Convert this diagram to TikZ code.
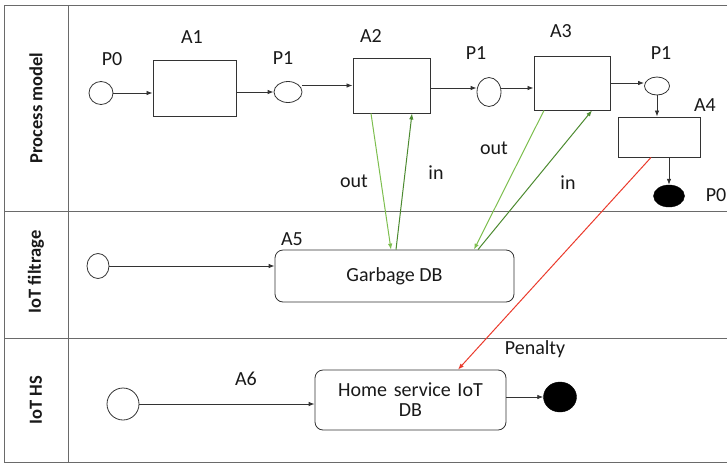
\documentclass[tikz,border=0pt]{standalone}
\usepackage{fontspec}
\setmainfont{Carlito}
\usetikzlibrary{arrows.meta,shapes.geometric}
\definecolor{ln}{HTML}{333333}
\definecolor{fr}{HTML}{6A6A6A}
\definecolor{lgreen}{HTML}{7DBE4E}
\definecolor{dgreen}{HTML}{4C8A30}
\definecolor{pred}{HTML}{EA3A2C}
\begin{document}
\begin{tikzpicture}[x=1pt,y=-1pt,
  every node/.style={font=\fontsize{20}{22}\selectfont, text=black!90},
  lbl/.style={inner sep=0pt},
  lane/.style={font=\fontsize{18.5}{20}\selectfont\bfseries, rotate=90, inner sep=0pt},
  act/.style={draw=ln, line width=0.9pt, inner sep=0pt},
  place/.style={ellipse, draw=ln, line width=0.8pt, inner sep=0pt},
  endp/.style={ellipse, draw=black, fill=black, inner sep=0pt},
  db/.style={draw=ln, line width=0.8pt, rounded corners=8pt, inner sep=0pt, align=center},
  flow/.style={draw=ln, line width=0.8pt, -{Latex[length=6pt,width=4.5pt]}},
  gout/.style={draw=lgreen, line width=1pt, -{Latex[length=6pt,width=4.5pt]}},
  gin/.style={draw=dgreen, line width=1pt, -{Latex[length=6pt,width=4.5pt]}},
  rflow/.style={draw=pred, line width=1pt, -{Latex[length=6pt,width=4.5pt]}},
  frame/.style={draw=fr, line width=1pt}
]
\useasboundingbox (0,0) rectangle (728,464);
% frame
\draw[frame] (727,5) -- (4,5) -- (4,462) -- (727,462);
\draw[frame] (68,5) -- (68,462);
\draw[frame] (4,211) -- (727,211);
\draw[frame] (4,338) -- (727,338);
% lane labels
\node[lane] (L1) at (36,108) {Process model};
\node[lane] (L2) at (36,272) {IoT filtrage};
\node[lane] (L3) at (36,400) {IoT HS};
% process model lane
\node[place, minimum width=24pt, minimum height=23pt] (P0) at (101,93) {};
\node[lbl] (tP0) at (112,59) {P0};
\node[act, minimum width=83pt, minimum height=56pt] (A1) at (194.5,88) {};
\node[lbl] (tA1) at (192,37) {A1};
\node[place, minimum width=28pt, minimum height=21pt] (P1a) at (288,92) {};
\node[lbl] (tP1a) at (283,58) {P1};
\node[act, minimum width=77pt, minimum height=55pt] (A2) at (391.5,85.5) {};
\node[lbl] (tA2) at (371,36) {A2};
\node[place, minimum width=24pt, minimum height=29pt] (P1b) at (489,92) {};
\node[lbl] (tP1b) at (476,53) {P1};
\node[act, minimum width=76pt, minimum height=54pt] (A3) at (572,83) {};
\node[lbl] (tA3) at (561,31) {A3};
\node[place, minimum width=25pt, minimum height=18pt] (P1c) at (657,86) {};
\node[lbl] (tP1c) at (661,53) {P1};
\node[act, minimum width=82pt, minimum height=40pt] (A4) at (659,137) {};
\node[lbl] (tA4) at (705,105) {A4};
\node[endp, minimum width=31pt, minimum height=22pt] (E1) at (669,196) {};
\node[lbl] (tE1) at (716,195) {P0};
% IoT filtrage lane
\node[place, minimum width=22pt, minimum height=25pt] (S2) at (98,266) {};
\node[db, minimum width=239pt, minimum height=52pt] (GDB) at (394.5,276) {Garbage DB};
\node[lbl] (tA5) at (292,239) {A5};
% IoT HS lane
\node[place, minimum width=32pt, minimum height=32pt] (S3) at (123,404) {};
\node[db, minimum width=191pt, minimum height=60pt, text width=185pt] (HS) at (410.5,400) {Home service IoT\\[-2pt]DB};
\node[lbl] (tA6) at (246,379) {A6};
\node[lbl] (tPen) at (535,349) {Penalty};
\node[endp, minimum width=33pt, minimum height=30pt] (E2) at (560,397) {};
% flows
\draw[flow] (P0) -- (P0 -| A1.west);
\draw[flow] (A1.east |- P1a) -- (P1a);
\draw[flow] (P1a.east |- A2) -- (A2.west |- A2);
\draw[flow] (A2.east |- 0,88) -- (P1b.west |- 0,88);
\draw[flow] (P1b.east |- 0,88) -- (A3.west |- 0,88);
\draw[flow] (A3.east) -- (P1c.west |- A3);
\draw[flow] (P1c) -- (P1c |- A4.north);
\draw[flow] (A4.south -| E1) -- (E1);
\draw[flow] (S2) -- (GDB.west |- S2);
\draw[flow] (S3) -- (HS.west |- S3);
\draw[flow] (HS.east |- E2) -- (E2);
% green data flows
\draw[gout] ([xshift=-20.5pt]A2.south) -- ([xshift=-3.5pt]GDB.north);
\draw[gin] ([xshift=1.5pt]GDB.north) -- ([xshift=20.5pt]A2.south);
\draw[gout] ([xshift=-28pt]A3.south) -- ([xshift=79.5pt]GDB.north);
\draw[gin] ([xshift=83.5pt]GDB.north) -- ([xshift=20pt]A3.south);
\node[lbl] (o1) at (354,181) {out};
\node[lbl] (i1) at (436,173) {in};
\node[lbl] (o2) at (494,148) {out};
\node[lbl] (i2) at (568,183) {in};
% penalty
\draw[rflow] ([xshift=-8pt]A4.south) -- ([xshift=47.5pt]HS.north);
\end{tikzpicture}
\end{document}
